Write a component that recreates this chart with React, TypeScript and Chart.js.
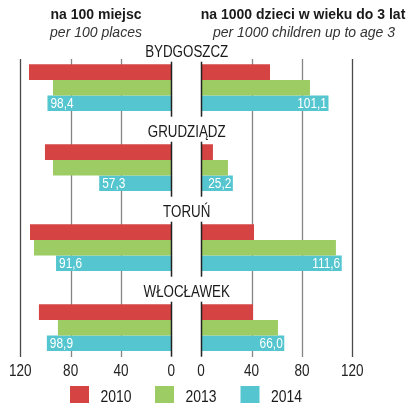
import React, { useEffect, useRef } from "react";
import { Chart, registerables } from "chart.js";

Chart.register(...registerables);

// ---- data ----
const cities = ["BYDGOSZCZ", "GRUDZIĄDZ", "TORUŃ", "WŁOCŁAWEK"];
const years = ["2010", "2013", "2014"];
const seriesColors = ["#d54343", "#9ccc63", "#55c5cf"];

// na 100 miejsc / per 100 places
const places2010 = [113.1, 100.4, 112.3, 105.2];
const places2013 = [94.0, 94.0, 109.1, 90.1];
const places2014 = [98.4, 57.3, 91.6, 98.9];

// na 1000 dzieci w wieku do 3 lat / per 1000 children up to age 3
const children2010 = [54.7, 9.4, 42.0, 41.2];
const children2013 = [86.4, 21.3, 107.0, 61.0];
const children2014 = [101.1, 25.2, 111.6, 66.0];

const xTicks = [0, 40, 80, 120];

const leftTitle = "na 100 miejsc";
const leftSubtitle = "per 100 places";
const rightTitle = "na 1000 dzieci w wieku do 3 lat";
const rightSubtitle = "per 1000 children up to age 3";

// ---- styles ----
const SANS = '"Liberation Sans", Arial, sans-serif';
const NARROW_SCALE = 0.82; // Arial metrics squeezed to Arial Narrow proportions
const W = 412;
const H = 403;

function fmt(v: number) {
  return v.toFixed(1).replace(".", ",");
}

function narrowText(
  ctx: CanvasRenderingContext2D,
  text: string,
  x: number,
  y: number,
  align: CanvasTextAlign,
  size: number,
  color: string,
  baseline: CanvasTextBaseline = "alphabetic"
) {
  ctx.save();
  ctx.translate(x, y);
  ctx.scale(NARROW_SCALE, 1);
  ctx.font = `${size}px ${SANS}`;
  ctx.fillStyle = color;
  ctx.textAlign = align;
  ctx.textBaseline = baseline;
  ctx.fillText(text, 0, 0);
  ctx.restore();
}

function gridPlugin(id: string) {
  return {
    id,
    beforeDatasetsDraw(chart: any) {
      const xs = chart.scales.x;
      const ys = chart.scales.y;
      const ctx = chart.ctx;
      const top = ys.getPixelForValue(0) - 28.7;
      const bottom = ys.getPixelForValue(cities.length - 1) + 29.3;
      ctx.save();
      xs.ticks.forEach((t: any) => {
        if (t.value === 0) return;
        const x = Math.round(xs.getPixelForValue(t.value)) + 0.5;
        ctx.strokeStyle = t.value === 120 ? "#4a4a4a" : "#858585";
        ctx.lineWidth = 1.3;
        ctx.beginPath();
        ctx.moveTo(x, top);
        ctx.lineTo(x, bottom);
        ctx.stroke();
      });
      ctx.restore();
    },
    afterDatasetsDraw(chart: any) {
      const xs = chart.scales.x;
      const ys = chart.scales.y;
      const ctx = chart.ctx;
      ctx.save();
      const x = Math.round(xs.getPixelForValue(0)) + 0.5;
      ctx.strokeStyle = "#222";
      ctx.lineWidth = 1.5;
      cities.forEach((_, i) => {
        const yc = ys.getPixelForValue(i);
        ctx.beginPath();
        ctx.moveTo(x, yc - 26);
        ctx.lineTo(x, yc + 29);
        ctx.stroke();
      });
      ctx.restore();
      // x tick labels
      xs.ticks.forEach((t: any) => {
        narrowText(ctx, String(t.value), xs.getPixelForValue(t.value), 376, "center", 16.5, "#222");
      });
    },
  };
}

function valueLabelPlugin(id: string, side: "left" | "right") {
  return {
    id,
    afterDatasetsDraw(chart: any) {
      const ctx = chart.ctx;
      const meta = chart.getDatasetMeta(2);
      const data = chart.data.datasets[2].data as number[];
      meta.data.forEach((bar: any, i: number) => {
        const txt = fmt(data[i]);
        if (side === "left") {
          narrowText(ctx, txt, bar.x + 3, bar.y + 5, "left", 14.5, "#ffffff");
        } else {
          narrowText(ctx, txt, bar.x - 1.5, bar.y + 5, "right", 14.5, "#ffffff");
        }
      });
    },
  };
}

const textPlugin = {
  id: "panelText",
  afterDraw(chart: any) {
    const ctx = chart.ctx;
    const ys = chart.scales.y;
    ctx.save();
    ctx.fillStyle = "#1a1a1a";
    ctx.textAlign = "center";
    ctx.textBaseline = "alphabetic";
    // titles
    ctx.font = `bold 14px ${SANS}`;
    ctx.fillText(leftTitle, 96, 19);
    ctx.fillText(rightTitle, 303, 19);
    ctx.fillStyle = "#333";
    ctx.font = `italic 14px ${SANS}`;
    ctx.fillText(leftSubtitle, 96, 37.3);
    ctx.fillText(rightSubtitle, 304, 37.3);
    ctx.restore();
    // city labels
    cities.forEach((c, i) => {
      narrowText(ctx, c, 186.7, ys.getPixelForValue(i) - 31, "center", 16.3, "#1a1a1a");
    });
    // legend
    const boxX = [70, 155, 240.5];
    years.forEach((yr, i) => {
      ctx.save();
      ctx.fillStyle = seriesColors[i];
      ctx.fillRect(boxX[i], 386, 19, 19);
      ctx.restore();
      narrowText(ctx, yr, boxX[i] + 30.5, 401.7, "left", 17, "#1a1a1a");
    });
  },
};

function makeConfig(
  values: number[][],
  reverse: boolean,
  padLeft: number,
  padRight: number,
  plugins: any[]
) {
  return {
    type: "bar" as const,
    data: {
      labels: cities,
      datasets: years.map((yr, i) => ({
        label: yr,
        data: values[i],
        backgroundColor: seriesColors[i],
        borderWidth: 0,
        barPercentage: 1,
        categoryPercentage: 0.585,
      })),
    },
    options: {
      indexAxis: "y" as const,
      responsive: false,
      animation: false as const,
      events: [],
      layout: { padding: { left: padLeft, right: padRight, top: 47.7, bottom: H - 367.7 } },
      scales: {
        x: {
          type: "linear" as const,
          min: 0,
          max: 120,
          reverse,
          grid: { display: false, drawTicks: false },
          border: { display: false },
          afterBuildTicks: (scale: any) => {
            scale.ticks = xTicks.map((v) => ({ value: v }));
          },
          ticks: { display: false },
        },
        y: { display: false, offset: true },
      },
      plugins: {
        legend: { display: false },
        tooltip: { enabled: false },
      },
    },
    plugins,
  };
}

export default function App() {
  const leftRef = useRef<HTMLCanvasElement>(null);
  const rightRef = useRef<HTMLCanvasElement>(null);

  useEffect(() => {
    const left = new Chart(
      leftRef.current as HTMLCanvasElement,
      makeConfig(
        [places2010, places2013, places2014],
        true,
        20.3,
        W - 171.3,
        [gridPlugin("gridL"), valueLabelPlugin("valL", "left"), textPlugin]
      ) as any
    );
    const right = new Chart(
      rightRef.current as HTMLCanvasElement,
      makeConfig(
        [children2010, children2013, children2014],
        false,
        201.1,
        W - 352.3,
        [gridPlugin("gridR"), valueLabelPlugin("valR", "right")]
      ) as any
    );
    return () => {
      left.destroy();
      right.destroy();
    };
  }, []);

  const canvasStyle: React.CSSProperties = {
    position: "absolute",
    left: 0,
    top: 0,
    width: W,
    height: H,
  };

  return (
    <div
      style={{
        position: "absolute",
        left: 0,
        top: 0,
        width: W,
        height: H,
        background: "#ffffff",
        overflow: "hidden",
      }}
    >
      <canvas ref={leftRef} width={W} height={H} style={canvasStyle} />
      <canvas ref={rightRef} width={W} height={H} style={canvasStyle} />
    </div>
  );
}
